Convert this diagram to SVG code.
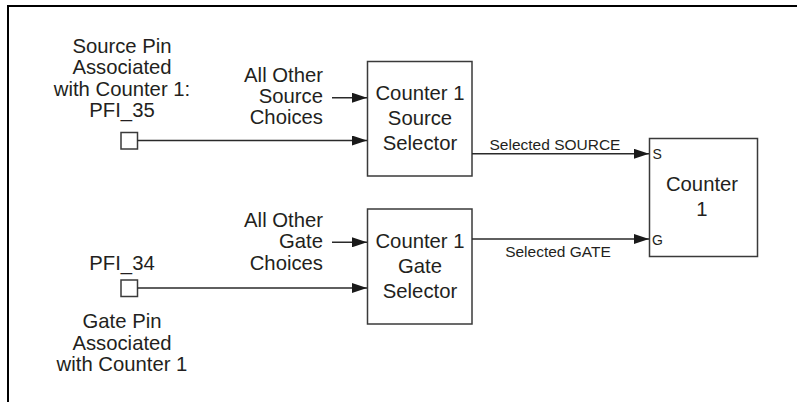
<svg xmlns="http://www.w3.org/2000/svg" width="798" height="402" viewBox="0 0 798 402">
<style>
text{font-family:"Liberation Sans",Arial,sans-serif;fill:#231f20}
.lbl{font-size:20.3px}
.mid{text-anchor:middle}
.end{text-anchor:end}
.sm{font-size:15.5px}
.pin{font-size:14px}
.box{fill:#fff;stroke:#3a3a3a;stroke-width:1.5}
.wire{stroke:#2a2a2a;stroke-width:1.4;fill:none}
.frame{stroke:#000;stroke-width:2;fill:none}
</style>
<defs>
<marker id="ah" viewBox="0 0 15 10" refX="15" refY="5" markerWidth="15" markerHeight="10" markerUnits="userSpaceOnUse" orient="auto">
<path d="M0,0 L15,5 L0,10 Z" fill="#1a1a1a"/>
</marker>
</defs>
<path class="frame" d="M8,402 V6 H797"/>
<g id="source-pin">
<rect class="box" x="121" y="132.5" width="16.5" height="16.5"/>
<text class="lbl mid" x="122" y="53">Source Pin</text>
<text class="lbl mid" x="122" y="74">Associated</text>
<text class="lbl mid" x="122" y="95.5">with Counter 1:</text>
<text class="lbl mid" x="122" y="116.5">PFI_35</text>
</g>
<g id="other-source">
<text class="lbl end" x="323" y="81.7">All Other</text>
<text class="lbl end" x="323" y="103">Source</text>
<text class="lbl end" x="323" y="124.3">Choices</text>
</g>
<g id="source-selector">
<rect class="box" x="367.5" y="61.5" width="104.5" height="114.5"/>
<text class="lbl mid" x="420" y="99.5">Counter 1</text>
<text class="lbl mid" x="420" y="124.5">Source</text>
<text class="lbl mid" x="420" y="149.5">Selector</text>
</g>
<g id="gate-pin">
<rect class="box" x="121" y="280" width="16.5" height="16.5"/>
<text class="lbl mid" x="122" y="270">PFI_34</text>
<text class="lbl mid" x="122" y="328">Gate Pin</text>
<text class="lbl mid" x="122" y="349.5">Associated</text>
<text class="lbl mid" x="122" y="371">with Counter 1</text>
</g>
<g id="other-gate">
<text class="lbl end" x="323" y="226.7">All Other</text>
<text class="lbl end" x="323" y="248">Gate</text>
<text class="lbl end" x="323" y="269.5">Choices</text>
</g>
<g id="gate-selector">
<rect class="box" x="367.5" y="209" width="104.5" height="115"/>
<text class="lbl mid" x="420" y="247.5">Counter 1</text>
<text class="lbl mid" x="420" y="272.5">Gate</text>
<text class="lbl mid" x="420" y="297.5">Selector</text>
</g>
<g id="counter-1">
<rect class="box" x="649.5" y="138.5" width="108" height="118"/>
<text class="lbl mid" x="702" y="191">Counter</text>
<text class="lbl mid" x="702" y="215.5">1</text>
<text class="pin" x="652.5" y="159">S</text>
<text class="pin" x="652" y="244.5">G</text>
</g>
<g id="connectors">
<line class="wire" x1="332" y1="97.7" x2="367" y2="97.7" marker-end="url(#ah)"/>
<line class="wire" x1="137.5" y1="140.5" x2="367" y2="140.5" marker-end="url(#ah)"/>
<line class="wire" x1="332" y1="242.3" x2="367" y2="242.3" marker-end="url(#ah)"/>
<line class="wire" x1="137.5" y1="288" x2="367" y2="288" marker-end="url(#ah)"/>
<line class="wire" x1="472" y1="153.8" x2="649" y2="153.8" marker-end="url(#ah)"/>
<line class="wire" x1="472" y1="239" x2="649" y2="239" marker-end="url(#ah)"/>
<text class="sm mid" x="555" y="150">Selected SOURCE</text>
<text class="sm mid" x="558" y="257">Selected GATE</text>
</g>
</svg>
